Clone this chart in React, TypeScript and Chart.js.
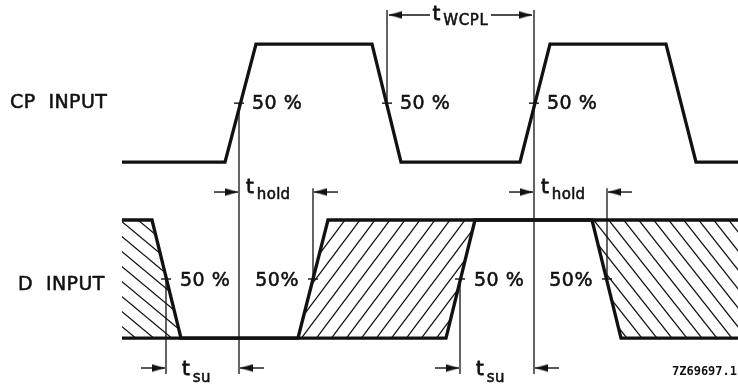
import React, { useEffect, useRef } from "react";
import { Chart, registerables } from "chart.js";

Chart.register(...registerables);

// ---- data (time in units of 10 ns-ish, levels: D low=0 / high=1, CP on upper track) ----
const CP_TIMES = [0, 10.3, 13.4, 25.0, 27.9, 39.8, 42.8, 54.4, 57.4, 61.6];
const CP_LEVELS = [1.49, 1.49, 2.49, 2.49, 1.49, 1.49, 2.49, 2.49, 1.49, 1.49];

const D_A_TIMES = [0, 3.0, 5.9, 32.4, 35.3, 47.0, 49.9, 61.6];
const D_A_LEVELS = [1, 1, 0, 0, 1, 1, 0, 0];
const D_B_TIMES = [0, 17.6, 20.6, 61.6];
const D_B_LEVELS = [0, 0, 1, 1];

// hatched "don't care" regions: upper / lower boundary
const HATCH_UPPER_TIMES = [[0, 3.0, 5.9], [17.6, 20.6, 35.3], [47.0, 61.6]];
const HATCH_UPPER_LEVELS = [[1, 1, 0], [0, 1, 1], [1, 1]];
const HATCH_LOWER_TIMES = [[0, 5.9], [17.6, 32.4, 35.3], [47.0, 49.9, 61.6]];
const HATCH_LOWER_LEVELS = [[0, 0], [0, 0, 1], [1, 0, 0]];
const HATCH_KIND = ["back", "fwd", "back"];

// 50 % crossing points
const CP_MID_TIMES = [11.7, 26.5, 41.2];
const CP_MID_LEVEL = 1.99;
const CP_PCT_LABELS = ["50 %", "50 %", "50 %"];
const D_MID_TIMES = [4.4, 19.1, 33.8, 48.5];
const D_MID_LEVEL = 0.5;
const D_PCT_LABELS = ["50 %", "50%", "50 %", "50%"];
const D_PCT_SIDE = [1, -1, 1, -1];

// reference (measurement) lines
const REF_TIMES = [11.7, 26.5, 41.2, 19.1, 48.5, 4.4, 33.8];
const REF_FROM = [1.99, 2.78, 2.78, 1.27, 1.27, 0.5, 0.5];
const REF_TO = [-0.305, 1.99, -0.305, 0.5, 0.5, -0.305, -0.305];

// timing dimensions
const DIM_SUBS = ["WCPL", "hold", "hold", "su", "su"];
const DIM_START = [26.5, 11.7, 41.2, 4.4, 33.8];
const DIM_END = [41.2, 19.1, 48.5, 11.7, 41.2];
const DIM_LEVEL = [2.737, 1.237, 1.237, -0.254, -0.254];
const DIM_INSIDE = [true, false, false, false, false];

const SIGNAL_NAMES = ["CP  INPUT", "D  INPUT"];
const SIGNAL_NAME_TIMES = [-11.2, -10.4];
const SIGNAL_NAME_LEVELS = [1.99, 0.45];

const FOOTNOTE = "7Z69697.1";

const INK = "#111";

function makeHatch(ctx: CanvasRenderingContext2D, w: number, h: number, forward: boolean, lw: number) {
  const c = document.createElement("canvas");
  c.width = w;
  c.height = h;
  const g = c.getContext("2d")!;
  g.strokeStyle = INK;
  g.lineWidth = lw;
  for (const k of [-1, 0, 1]) {
    g.beginPath();
    if (forward) {
      g.moveTo(k * w - w, 2 * h);
      g.lineTo(k * w + 2 * w, -h);
    } else {
      g.moveTo(k * w - w, -h);
      g.lineTo(k * w + 2 * w, 2 * h);
    }
    g.stroke();
  }
  return ctx.createPattern(c, "repeat");
}

function makeArrowHead() {
  const c = document.createElement("canvas");
  c.width = 13;
  c.height = 9;
  const g = c.getContext("2d")!;
  g.fillStyle = INK;
  g.beginPath();
  g.moveTo(0, 0.8);
  g.lineTo(13, 4.5);
  g.lineTo(0, 8.2);
  g.closePath();
  g.fill();
  return c;
}

const pts = (xs: number[], ys: number[]) => xs.map((x, i) => ({ x, y: ys[i] }));

export default function App() {
  const ref = useRef<HTMLCanvasElement>(null);

  useEffect(() => {
    const canvas = ref.current!;
    const ctx = canvas.getContext("2d")!;
    const hatchBack1 = makeHatch(ctx, 18, 15, false, 1.3);
    const hatchFwd = makeHatch(ctx, 15, 20, true, 1.3);
    const hatchBack = makeHatch(ctx, 15, 19, false, 1.3);
    const arrow = makeArrowHead();

    const lineBase = {
      fill: false,
      pointRadius: 0,
      pointHoverRadius: 0,
      tension: 0,
      borderJoinStyle: "miter",
      borderCapStyle: "butt",
      backgroundColor: "transparent",
      borderColor: INK,
    };

    const datasets: any[] = [];
    // signal traces
    datasets.push({ ...lineBase, data: pts(CP_TIMES, CP_LEVELS), borderWidth: 3.3 });
    datasets.push({ ...lineBase, data: pts(D_A_TIMES, D_A_LEVELS), borderWidth: 3.3 });
    datasets.push({ ...lineBase, data: pts(D_B_TIMES, D_B_LEVELS), borderWidth: 3.3 });

    // reference lines
    REF_TIMES.forEach((t, i) => {
      datasets.push({ ...lineBase, data: [{ x: t, y: REF_FROM[i] }, { x: t, y: REF_TO[i] }], borderWidth: 1.3 });
    });

    // 50% ticks
    datasets.push({
      ...lineBase,
      showLine: false,
      data: [
        ...CP_MID_TIMES.map((t) => ({ x: t, y: CP_MID_LEVEL })),
        ...D_MID_TIMES.map((t) => ({ x: t, y: D_MID_LEVEL })),
      ],
      pointStyle: "line",
      pointRadius: 5,
      pointBorderWidth: 1.4,
      pointBorderColor: INK,
    });

    // dimension arrows
    const rightHeads: any[] = [];
    const leftHeads: any[] = [];
    DIM_START.forEach((s, i) => {
      const e = DIM_END[i];
      const lv = DIM_LEVEL[i];
      let shafts: number[][];
      if (DIM_INSIDE[i]) {
        shafts = [[s + 0.2, s + 4.3], [e - 4.3, e - 0.2]];
        leftHeads.push({ x: s + 0.85, y: lv });
        rightHeads.push({ x: e - 0.85, y: lv });
      } else {
        shafts = [[s - 2.5, s - 0.1], [e + 0.1, e + 2.5]];
        rightHeads.push({ x: s - 0.75, y: lv });
        leftHeads.push({ x: e + 0.75, y: lv });
      }
      shafts.forEach(([a, b]) => {
        datasets.push({ ...lineBase, data: [{ x: a, y: lv }, { x: b, y: lv }], borderWidth: 1.4 });
      });
    });
    datasets.push({ ...lineBase, showLine: false, data: rightHeads, pointStyle: arrow, pointRadius: 6, pointRotation: 0 });
    datasets.push({ ...lineBase, showLine: false, data: leftHeads, pointStyle: arrow, pointRadius: 6, pointRotation: 180 });

    // hatched regions (drawn first)
    HATCH_UPPER_TIMES.forEach((ut, i) => {
      const pat = HATCH_KIND[i] === "fwd" ? hatchFwd : i === 0 ? hatchBack1 : hatchBack;
      datasets.push({
        ...lineBase,
        data: pts(ut, HATCH_UPPER_LEVELS[i]),
        borderWidth: 0,
        borderColor: "transparent",
        fill: "+1",
        backgroundColor: pat,
      });
      datasets.push({
        ...lineBase,
        data: pts(HATCH_LOWER_TIMES[i], HATCH_LOWER_LEVELS[i]),
        borderWidth: 0,
        borderColor: "transparent",
      });
    });

    const bold = (c: CanvasRenderingContext2D, s: string, x: number, y: number) => {
      c.fillText(s, x, y);
      c.strokeText(s, x, y);
    };

    const textPlugin = {
      id: "timingText",
      afterDatasetsDraw(chart: any) {
        const c: CanvasRenderingContext2D = chart.ctx;
        const sx = chart.scales.x;
        const sy = chart.scales.y;
        c.save();
        c.fillStyle = INK;
        c.strokeStyle = INK;
        c.lineWidth = 0.55;
        c.lineJoin = "round";
        // signal names
        c.font = '19px "DejaVu Sans"';
        (c as any).letterSpacing = "0.4px";
        c.textBaseline = "middle";
        c.textAlign = "left";
        SIGNAL_NAMES.forEach((s, i) => {
          bold(c, s, sx.getPixelForValue(SIGNAL_NAME_TIMES[i]), sy.getPixelForValue(SIGNAL_NAME_LEVELS[i]));
        });
        // percent labels
        c.font = '19px "DejaVu Sans"';
        (c as any).letterSpacing = "0.5px";
        CP_MID_TIMES.forEach((t, i) => {
          c.textAlign = "left";
          bold(c, CP_PCT_LABELS[i], sx.getPixelForValue(t) + 13, sy.getPixelForValue(CP_MID_LEVEL) + 1);
        });
        D_MID_TIMES.forEach((t, i) => {
          const side = D_PCT_SIDE[i];
          c.textAlign = side > 0 ? "left" : "right";
          bold(c, D_PCT_LABELS[i], sx.getPixelForValue(t) + side * 14, sy.getPixelForValue(D_MID_LEVEL) + 2);
        });
        // dimension labels
        c.textAlign = "left";
        c.textBaseline = "alphabetic";
        DIM_SUBS.forEach((sub, i) => {
          const y0 = sy.getPixelForValue(DIM_LEVEL[i]);
          const xs = sx.getPixelForValue(DIM_START[i]);
          const xe = sx.getPixelForValue(DIM_END[i]);
          c.font = '20px "DejaVu Sans"';
          (c as any).letterSpacing = "0px";
          const tw = c.measureText("t").width;
          const subFont = '15px "DejaVu Sans"';
          c.font = subFont;
          (c as any).letterSpacing = sub === "WCPL" ? "0.6px" : "0.3px";
          const sw = c.measureText(sub).width;
          const gap = 3;
          let left: number;
          let base: number;
          let subDy: number;
          if (sub === "WCPL") {
            left = (xs + xe) / 2 - (tw + gap + sw) / 2;
            base = y0 + 5;
            subDy = 5;
          } else if (sub === "hold") {
            left = xs + 7;
            base = y0 + 1;
            subDy = 6;
          } else {
            left = xs + 16;
            base = y0 + 7;
            subDy = 7;
          }
          c.font = '20px "DejaVu Sans"';
          (c as any).letterSpacing = "0px";
          c.lineWidth = 0.8;
          bold(c, "t", left, base);
          c.lineWidth = 0.55;
          c.font = subFont;
          (c as any).letterSpacing = sub === "WCPL" ? "0.6px" : "0.3px";
          bold(c, sub, left + tw + gap, base + subDy);
        });
        // footnote
        (c as any).letterSpacing = "0px";
        c.font = 'bold 12px "DejaVu Sans Mono"';
        c.textAlign = "right";
        c.fillText(FOOTNOTE, chart.width - 1, 375);
        c.restore();
      },
    };

    const chart = new Chart(canvas, {
      type: "line",
      data: { datasets },
      options: {
        responsive: false,
        animation: false,
        events: [],
        layout: { padding: 0, autoPadding: false },
        plugins: {
          legend: { display: false },
          tooltip: { enabled: false },
          title: { display: false },
        },
        scales: {
          x: { type: "linear", display: false, min: -12.2, max: 61.6 },
          y: { type: "linear", display: false, min: -0.398, max: 2.864 },
        },
      },
      plugins: [textPlugin],
    } as any);
    return () => chart.destroy();
  }, []);

  return (
    <div style={{ position: "fixed", left: 0, top: 0, width: 738, height: 385, background: "#fff" }}>
      <canvas ref={ref} width={738} height={385} style={{ display: "block" }} />
    </div>
  );
}
